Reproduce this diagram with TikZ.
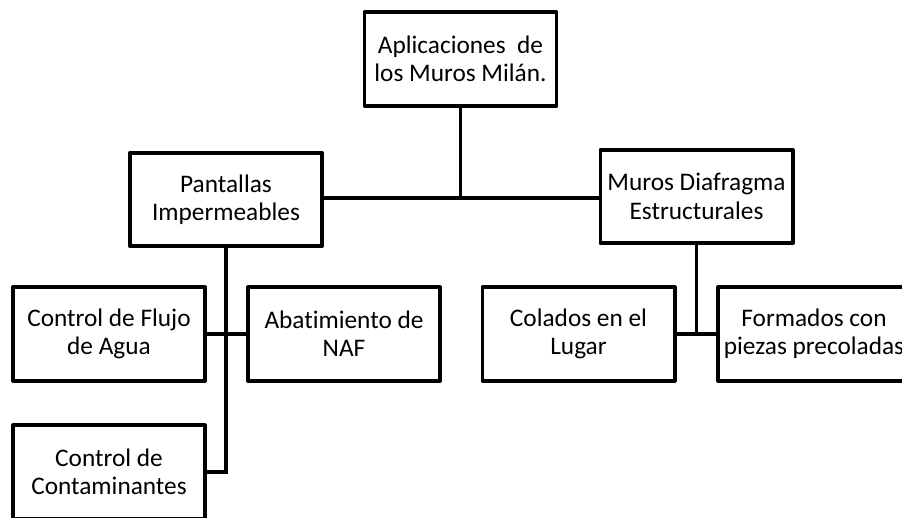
\documentclass[tikz,border=0pt]{standalone}
\usepackage{fontspec}
\setmainfont{Carlito}[Ligatures=NoCommon]
\usepackage{tikz}
\usetikzlibrary{calc}

\tikzset{
    caja/.style = {draw = black, line width = 2.8pt, line join = round,
        minimum width = 4.8cm, minimum height = 2.33cm, inner sep = 0pt,
        align = center, font = \fontsize{18}{20.1}\selectfont},
    union/.style = {draw = black, line width = 2.8pt}
}

\begin{document}
\begin{tikzpicture}[x = 0.025cm, y = -0.025cm]
        \useasboundingbox (0,0) rectangle (902,518);

        \node[caja] (raiz) at (460.5, 59) {Aplicaciones\ \ de\\los Muros Milán.};
        \node[caja] (pantallas) at (226, 199.5) {Pantallas\\Impermeables};
        \node[caja] (muros) at (696.5, 196.5) {Muros Diafragma\\Estructurales};

        \node[caja] (flujo) at (109, 334) {Control de Flujo\\de Agua};
        \node[caja] (naf) at (344, 334) {Abatimiento de\\NAF};
        \node[caja] (contam) at (109, 472) {Control de\\Contaminantes};

        \node[caja] (colados) at (578.5, 334) {Colados en el\\Lugar};
        \node[caja] (formados) at (814, 334) {Formados con\\piezas precoladas};

        \coordinate (nudo) at (460.5, 198);
        \draw[union] (raiz.south) -- (nudo);
        \draw[union] (pantallas.east |- nudo) -- (muros.west |- nudo);

        \draw[union] (pantallas.south) |- (contam.east);
        \draw[union] (flujo.east) -- (naf.west);

        \draw[union] (muros.south) -- (muros.south |- colados.east);
        \draw[union] (colados.east) -- (formados.west);
    \end{tikzpicture}
\end{document}
